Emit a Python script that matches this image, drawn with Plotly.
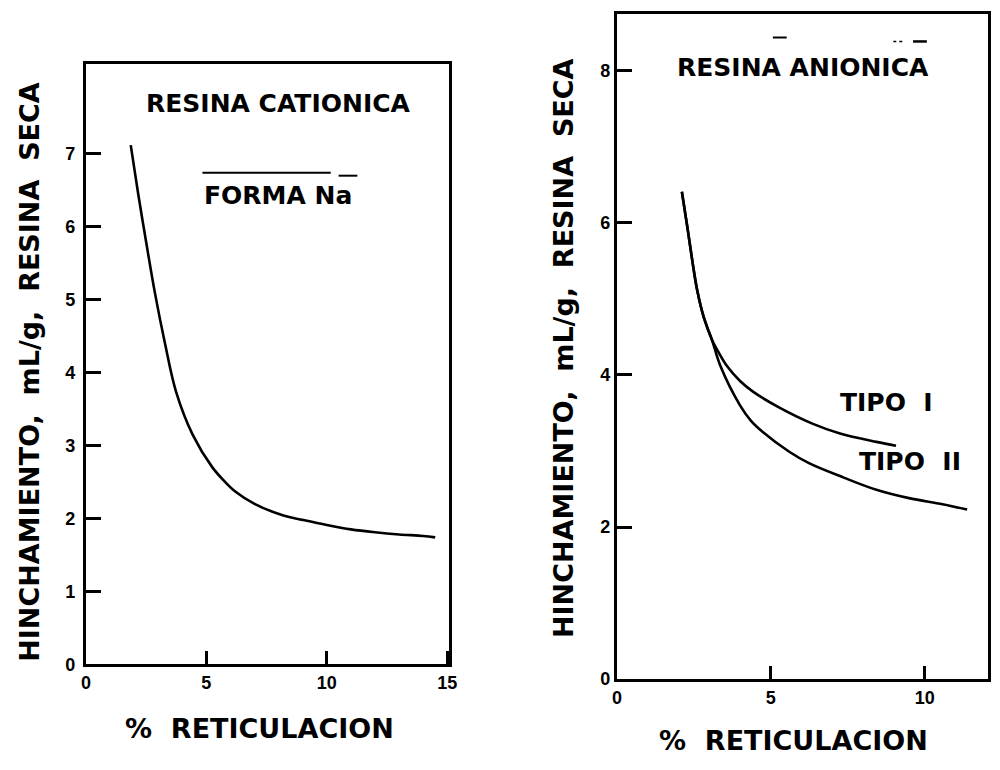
import plotly.graph_objects as go

# ---------------- data ----------------
# Left panel: cationic resin, Na form
cat_x = [1.86, 2.17, 2.51, 2.86, 3.27, 3.74, 4.43, 5.25, 5.78, 6.2, 7.0, 8.2, 9.0, 10.0, 11.0, 12.0, 13.0, 14.0, 14.5]
cat_y = [7.12, 6.45, 5.77, 5.10, 4.42, 3.74, 3.15, 2.70, 2.50, 2.37, 2.2, 2.04, 1.98, 1.91, 1.85, 1.81, 1.78, 1.76, 1.74]

# Right panel: anionic resin (both curves share the upper branch)
tipo1_x = [2.11, 2.29, 2.45, 2.61, 2.82, 3.09, 3.3, 3.57, 4.0, 4.42, 5.28, 6.35, 7.25, 8.43, 9.07]
tipo1_y = [6.41, 5.94, 5.5, 5.11, 4.76, 4.46, 4.3, 4.12, 3.92, 3.78, 3.57, 3.36, 3.23, 3.12, 3.07]
tipo2_x = [2.11, 2.29, 2.45, 2.61, 2.82, 3.09, 3.36, 4.0, 4.35, 4.74, 5.6, 6.24, 7.37, 8.43, 9.49, 10.58, 11.38]
tipo2_y = [6.41, 5.94, 5.5, 5.11, 4.76, 4.46, 4.12, 3.6, 3.4, 3.25, 2.99, 2.84, 2.65, 2.49, 2.38, 2.3, 2.23]

left_yticks = [0, 1, 2, 3, 4, 5, 6, 7]
left_xticks = [0, 5, 10, 15]
right_yticks = [0, 2, 4, 6, 8]
right_xticks = [0, 5, 10]

ylabel = "HINCHAMIENTO,\u00a0\u00a0mL/g,\u00a0\u00a0RESINA\u00a0\u00a0SECA"
xlabel = "%\u00a0\u00a0RETICULACION"

W, H = 1000, 770


def px(x):
    return x / W


def py(y):
    return 1 - y / H


fig = go.Figure()
line_style = dict(color="black", width=2.6, shape="spline", smoothing=1.0)
fig.add_trace(go.Scatter(x=cat_x, y=cat_y, mode="lines", line=line_style,
                         xaxis="x", yaxis="y", hoverinfo="skip"))
fig.add_trace(go.Scatter(x=tipo1_x, y=tipo1_y, mode="lines", line=line_style,
                         xaxis="x2", yaxis="y2", hoverinfo="skip"))
fig.add_trace(go.Scatter(x=tipo2_x, y=tipo2_y, mode="lines", line=line_style,
                         xaxis="x2", yaxis="y2", hoverinfo="skip"))

tickfont = dict(family="Liberation Sans", size=18, color="black", weight="bold")
axis_common = dict(showline=True, linecolor="black", linewidth=3, mirror=True,
                   showgrid=False, zeroline=False, ticks="inside",
                   tickcolor="black", tickwidth=2.5, tickfont=tickfont)

fig.update_layout(
    width=W, height=H, autosize=False,
    margin=dict(l=0, r=0, t=0, b=0),
    paper_bgcolor="white", plot_bgcolor="white",
    showlegend=False,
    xaxis=dict(domain=[px(82), px(450)], range=[0, 15.08], tickvals=left_xticks,
               ticklen=13, anchor="y", **axis_common),
    yaxis=dict(domain=[py(673), py(65)], range=[0, 8.23], tickvals=left_yticks,
               ticklen=15, anchor="x", ticklabelstandoff=4, **axis_common),
    xaxis2=dict(domain=[px(620), px(996)], range=[0, 12.06], tickvals=right_xticks,
                ticklen=13, anchor="y2", **axis_common),
    yaxis2=dict(domain=[py(688), py(14)], range=[0, 8.75], tickvals=right_yticks,
                ticklen=15, anchor="x2", **axis_common),
)

bold = dict(family="DejaVu Sans", size=25, color="black", weight="bold")
lab = dict(family="DejaVu Sans", size=27, color="black", weight="bold")

ann = [
    dict(x=px(24), y=py(377), text=ylabel, textangle=-90, font=lab),
    dict(x=px(566), y=py(353), text=ylabel, textangle=-90, font=lab),
    dict(x=px(258), y=py(738), text=xlabel, font=lab),
    dict(x=px(799), y=py(750), text=xlabel, font=lab),
    dict(x=px(277), y=py(105), text="RESINA CATIONICA", font=bold),
    dict(x=px(277), y=py(198), text="FORMA Na", font=bold),
    dict(x=px(809), y=py(68), text="RESINA ANIONICA", font=bold),
    dict(x=px(893), y=py(408), text="TIPO\u00a0\u00a0I", font=bold),
    dict(x=px(917), y=py(468), text="TIPO\u00a0\u00a0II", font=bold),
]
for a in ann:
    a.update(xref="paper", yref="paper", showarrow=False, xanchor="center", yanchor="middle")
fig.update_layout(annotations=ann)

# overline above "FORMA Na" and scan dashes above "RESINA ANIONICA"
shapes = [
    dict(type="line", xref="paper", yref="paper", x0=px(200), x1=px(330), y0=py(175), y1=py(175),
         line=dict(color="black", width=2)),
    dict(type="line", xref="paper", yref="paper", x0=px(338), x1=px(357), y0=py(178), y1=py(178),
         line=dict(color="black", width=2)),
    dict(type="line", xref="paper", yref="paper", x0=px(778), x1=px(792), y0=py(38), y1=py(38),
         line=dict(color="black", width=2)),
    dict(type="line", xref="paper", yref="paper", x0=px(920), x1=px(934), y0=py(42), y1=py(42),
         line=dict(color="black", width=2.5)),
    dict(type="line", xref="paper", yref="paper", x0=px(900), x1=px(910), y0=py(42), y1=py(42),
         line=dict(color="black", width=1.5, dash="dot")),
]
fig.update_layout(shapes=shapes)

fig.write_html("out.html", config={"displayModeBar": False},
               post_script="document.body.style.margin='0';document.body.style.overflow='hidden';")
